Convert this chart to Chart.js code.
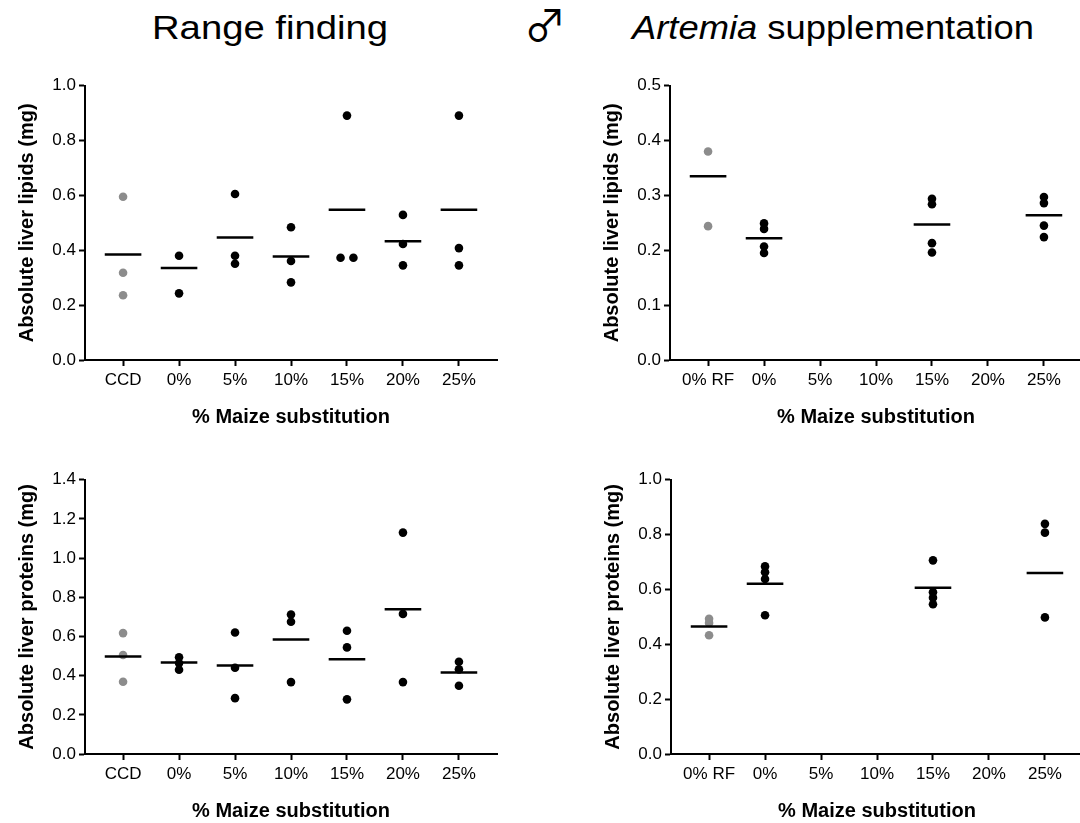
<!DOCTYPE html>
<html>
<head>
<meta charset="utf-8">
<script src="https://cdn.jsdelivr.net/npm/chart.js@4/dist/chart.umd.min.js"></script>
<style>
  html, body { margin: 0; padding: 0; background: #fff; overflow: hidden; }
  body { width: 1080px; height: 823px; position: relative; font-family: "Liberation Sans", Arial, sans-serif; }
  canvas { position: absolute; }
  .head { position: absolute; white-space: nowrap; font-size: 33px; line-height: 33px; color: #000; transform-origin: left center; }
</style>
</head>
<body>
<div class="head" id="t1" data-w="236" style="left:152px; top:11px;">Range finding</div>
<div class="head" id="t2" style="left:524px; top:2px; font-family:'Noto Sans CJK JP','DejaVu Sans'; font-size:42px; line-height:42px;">&#9794;</div>
<div class="head" id="t3" data-w="402" style="left:632px; top:11px;"><i>Artemia</i> supplementation</div>

<canvas id="c1" width="540" height="380" style="left:0px; top:60px;"></canvas>
<canvas id="c2" width="540" height="380" style="left:585px; top:60px;"></canvas>
<canvas id="c3" width="540" height="380" style="left:0px; top:454px;"></canvas>
<canvas id="c4" width="540" height="380" style="left:586px; top:454px;"></canvas>

<script>
// categories
const rfCats = ['CCD', '0%', '5%', '10%', '15%', '20%', '25%'];
const artCats = ['0% RF', '0%', '5%', '10%', '15%', '20%', '25%'];

// range finding - lipids (mg)
const rfLipids = [[0.595, 0.318, 0.236], [0.380, 0.243], [0.605, 0.380, 0.351], [0.484, 0.361, 0.283],
  [0.891, 0.373, 0.373], [0.529, 0.423, 0.345], [0.891, 0.408, 0.345]];
const rfLipidsMean = [0.385, 0.335, 0.447, 0.377, 0.548, 0.433, 0.548];

// artemia - lipids (mg)
const artLipids = [[0.380, 0.244], [0.249, 0.239, 0.207, 0.195], [], [],
  [0.294, 0.284, 0.213, 0.196], [], [0.297, 0.286, 0.245, 0.224]];
const artLipidsMean = [0.335, 0.222, null, null, 0.247, null, 0.264];

// range finding - proteins (mg)
const rfProteins = [[0.617, 0.505, 0.369], [0.494, 0.464, 0.430], [0.620, 0.440, 0.285], [0.712, 0.675, 0.367],
  [0.629, 0.544, 0.279], [1.130, 0.715, 0.367], [0.471, 0.432, 0.348]];
const rfProteinsMean = [0.498, 0.467, 0.452, 0.584, 0.484, 0.739, 0.416];

// artemia - proteins (mg)
const artProteins = [[0.493, 0.478, 0.433], [0.684, 0.663, 0.638, 0.506], [], [],
  [0.706, 0.590, 0.570, 0.546], [], [0.839, 0.807, 0.498]];
const artProteinsMean = [0.465, 0.621, null, null, 0.606, null, 0.660];

// y tick labels
const ticksLip1 = ['0.0', '0.2', '0.4', '0.6', '0.8', '1.0'];
const ticksLip2 = ['0.0', '0.1', '0.2', '0.3', '0.4', '0.5'];
const ticksProt1 = ['0.0', '0.2', '0.4', '0.6', '0.8', '1.0', '1.2', '1.4'];
const ticksProt2 = ['0.0', '0.2', '0.4', '0.6', '0.8', '1.0'];

Chart.defaults.font.family = '"Liberation Sans", Arial, sans-serif';
Chart.defaults.color = '#000';

const GREY = '#8c8c8c', BLACK = '#000';

function makePanel(id, cats, groups, means, yTicks, yTitle) {
  const pts = [], cols = [];
  groups.forEach((vals, i) => {
    vals.forEach((v, k) => {
      // identical values get spread side by side, like the prism scatter
      const same = vals.filter(w => w === v).length;
      const rank = vals.slice(0, k).filter(w => w === v).length;
      const dx = same > 1 ? (rank - (same - 1) / 2) * 0.23 : 0;
      pts.push({ x: i + dx, y: v });
      cols.push(i === 0 ? GREY : BLACK);
    });
  });
  const meanPts = [];
  means.forEach((m, i) => { if (m !== null) meanPts.push({ x: i, y: m }); });
  const yVals = yTicks.map(Number);

  new Chart(document.getElementById(id), {
    type: 'scatter',
    data: {
      datasets: [
        { data: meanPts, pointStyle: 'line', pointRadius: 18.3, pointBorderWidth: 2.5,
          borderColor: BLACK, pointBorderColor: BLACK },
        { data: pts, pointRadius: 4.3, pointBorderWidth: 0, pointBackgroundColor: cols }
      ]
    },
    options: {
      responsive: false, animation: false, events: [],
      layout: { padding: { top: 25.7, right: 43, left: 0, bottom: 0 } },
      plugins: { legend: { display: false }, tooltip: { enabled: false } },
      scales: {
        x: {
          type: 'linear', min: -0.68, max: 6.68,
          afterBuildTicks: s => { s.ticks = cats.map((c, i) => ({ value: i })); },
          afterFit: s => { s.height = 80; },
          ticks: { callback: v => cats[v], font: { size: 17 }, padding: 4, maxRotation: 0, autoSkip: false },
          grid: { display: true, drawOnChartArea: false, drawTicks: true, tickLength: 6, tickWidth: 2, tickColor: BLACK },
          border: { display: true, color: BLACK, width: 2 },
          title: { display: true, text: '% Maize substitution', font: { size: 20, weight: 'bold' }, padding: { top: 0, bottom: 11 } }
        },
        y: {
          min: 0, max: yVals[yVals.length - 1],
          afterBuildTicks: s => { s.ticks = yVals.map(v => ({ value: v })); },
          afterFit: s => { s.width = 85; },
          ticks: { callback: (v, i) => yTicks[i], font: { size: 17 }, padding: 3 },
          grid: { display: true, drawOnChartArea: false, drawTicks: true, tickLength: 6, tickWidth: 2, tickColor: BLACK },
          border: { display: true, color: BLACK, width: 2 },
          title: { display: true, text: yTitle, font: { size: 20, weight: 'bold' }, padding: { top: 15, bottom: 0 } }
        }
      }
    }
  });
}

makePanel('c1', rfCats, rfLipids, rfLipidsMean, ticksLip1, 'Absolute liver lipids (mg)');
makePanel('c2', artCats, artLipids, artLipidsMean, ticksLip2, 'Absolute liver lipids (mg)');
makePanel('c3', rfCats, rfProteins, rfProteinsMean, ticksProt1, 'Absolute liver proteins (mg)');
makePanel('c4', artCats, artProteins, artProteinsMean, ticksProt2, 'Absolute liver proteins (mg)');

// stretch headings to the width they have in the figure
document.querySelectorAll('.head[data-w]').forEach(el => {
  const w = el.getBoundingClientRect().width;
  el.style.transform = 'scaleX(' + (Number(el.dataset.w) / w) + ')';
});
</script>
</body>
</html>
